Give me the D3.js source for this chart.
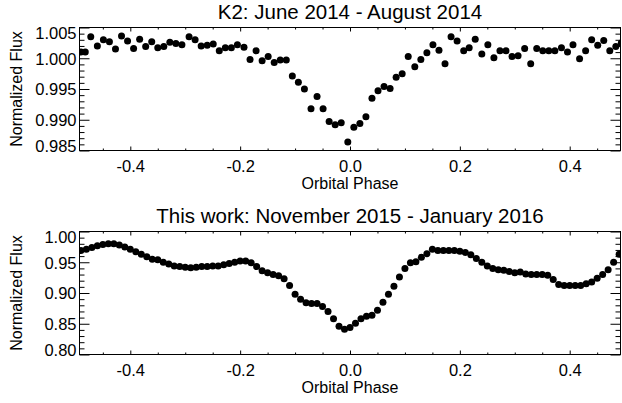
<!DOCTYPE html>
<html><head><meta charset="utf-8">
<script src="https://cdn.jsdelivr.net/npm/d3@7"></script>
<style>
body{margin:0;background:#fff}
svg text{font-family:"Liberation Sans",Arial,Helvetica,sans-serif;fill:#000}
</style>
</head><body>
<svg id="c" width="622" height="403"></svg>
<script>
// ---- data ----
const k2Phase = [-0.490,-0.482,-0.472,-0.460,-0.449,-0.438,-0.427,-0.416,-0.405,-0.394,
 -0.383,-0.372,-0.361,-0.350,-0.339,-0.328,-0.317,-0.306,-0.293,-0.282,
 -0.271,-0.260,-0.249,-0.238,-0.227,-0.216,-0.205,-0.193,-0.182,-0.171,
 -0.160,-0.149,-0.138,-0.127,-0.116,-0.105,-0.094,-0.083,-0.071,-0.060,
 -0.049,-0.038,-0.027,-0.016,-0.004,0.007,0.018,0.029,0.040,0.051,
 0.062,0.073,0.084,0.095,0.106,0.118,0.129,0.140,0.151,0.162,
 0.173,0.184,0.195,0.207,0.217,0.228,0.240,0.251,0.262,0.273,
 0.284,0.295,0.306,0.318,0.329,0.340,0.351,0.362,0.373,0.385,
 0.396,0.406,0.418,0.429,0.440,0.451,0.462,0.473,0.484,0.494];
const k2Flux = [1.0010,1.0010,1.0035,1.0020,1.0030,1.0027,1.0015,1.0036,1.0028,1.0016,
 1.0031,1.0019,1.0027,1.0017,1.0019,1.0026,1.0024,1.0022,1.0035,1.0030,
 1.0020,1.0021,1.0023,1.0012,1.0017,1.0017,1.0022,1.0018,0.9998,1.0012,
 0.9996,1.0003,0.9993,0.9997,0.9997,0.9971,0.9961,0.9950,0.9918,0.9938,
 0.9918,0.9897,0.9892,0.9895,0.9864,0.9888,0.9894,0.9905,0.9935,0.9947,
 0.9954,0.9951,0.9969,0.9975,1.0003,0.9986,0.9998,1.0009,1.0022,1.0013,
 0.9991,1.0035,1.0028,1.0012,1.0017,1.0031,1.0007,1.0022,1.0001,1.0012,
 1.0012,1.0003,1.0004,1.0016,0.9991,1.0016,1.0012,1.0012,1.0012,1.0017,
 1.0010,1.0022,0.9999,1.0012,1.0030,1.0021,1.0029,1.0012,1.0019,1.0025];

const newPhase = [-0.49,-0.48,-0.47,-0.46,-0.45,-0.44,-0.43,-0.42,-0.41,-0.40,
 -0.39,-0.38,-0.37,-0.36,-0.35,-0.34,-0.33,-0.32,-0.31,-0.30,
 -0.29,-0.28,-0.27,-0.26,-0.25,-0.24,-0.23,-0.22,-0.21,-0.20,
 -0.19,-0.18,-0.17,-0.16,-0.15,-0.14,-0.13,-0.12,-0.11,-0.10,
 -0.09,-0.08,-0.07,-0.06,-0.05,-0.04,-0.03,-0.02,-0.01,0.00,
 0.01,0.02,0.03,0.04,0.05,0.06,0.07,0.08,0.09,0.10,
 0.11,0.12,0.13,0.14,0.15,0.16,0.17,0.18,0.19,0.20,
 0.21,0.22,0.23,0.24,0.25,0.26,0.27,0.28,0.29,0.30,
 0.31,0.32,0.33,0.34,0.35,0.36,0.37,0.38,0.39,0.40,
 0.41,0.42,0.43,0.44,0.45,0.46,0.47,0.48,0.49];
const newFlux = [0.969,0.971,0.974,0.977,0.979,0.980,0.980,0.978,0.975,0.971,
 0.967,0.963,0.959,0.955,0.954,0.950,0.947,0.944,0.943,0.942,
 0.941,0.942,0.943,0.943,0.944,0.944,0.946,0.948,0.950,0.952,
 0.952,0.949,0.943,0.936,0.933,0.930,0.928,0.923,0.912,0.898,
 0.890,0.884,0.883,0.883,0.878,0.870,0.858,0.846,0.841,0.844,
 0.851,0.858,0.862,0.864,0.872,0.885,0.898,0.911,0.926,0.940,
 0.949,0.951,0.958,0.964,0.971,0.969,0.969,0.969,0.969,0.968,
 0.966,0.962,0.956,0.950,0.944,0.940,0.938,0.937,0.935,0.933,
 0.934,0.931,0.930,0.930,0.930,0.929,0.922,0.914,0.912,0.912,
 0.912,0.912,0.915,0.918,0.924,0.930,0.938,0.950,0.963];

const xMajorTicks = [-0.4,-0.2,0.0,0.2,0.4];
const k2YTicks = [0.985,0.990,0.995,1.000,1.005];
const newYTicks = [0.80,0.85,0.90,0.95,1.00];
const titles = ["K2: June 2014 - August 2014","This work: November 2015 - January 2016"];
const xLabel = "Orbital Phase";
const yLabel = "Normalized Flux";

// ---- drawing ----
const svg = d3.select("#c");
const xLeft = 79.5, xRight = 620.5;
const xDomain = [-0.4925, 0.4925];

const panels = [
  {top:27.5, bottom:150.5, yDomain:[0.985,1.005], yTicks:k2YTicks, yMinor:0.001, fmt:d=>d.toFixed(3),
   phase:k2Phase, flux:k2Flux, title:titles[0]},
  {top:231.5, bottom:354.5, yDomain:[0.80,1.00], yTicks:newYTicks, yMinor:0.01, fmt:d=>d.toFixed(2),
   phase:newPhase, flux:newFlux, title:titles[1]}
];

panels.forEach((p,i)=>{
  const g = svg.append("g");
  const x = d3.scaleLinear().domain(xDomain).range([xLeft,xRight]);
  const y = d3.scaleLinear().domain(p.yDomain).range([p.bottom,p.top]);
  const xMinor = d3.range(-0.45,0.4501,0.05).map(v=>+v.toFixed(2)).filter(v=>!xMajorTicks.some(m=>Math.abs(m-v)<1e-6));
  const yMinor = d3.range(p.yDomain[0], p.yDomain[1]+p.yMinor/2, p.yMinor).map(v=>+v.toFixed(4))
     .filter(v=>!p.yTicks.some(m=>Math.abs(m-v)<1e-6));

  const clipId = "clip"+i;
  svg.append("clipPath").attr("id",clipId).append("rect")
    .attr("x",xLeft).attr("y",p.top).attr("width",xRight-xLeft).attr("height",p.bottom-p.top);

  // points
  g.append("g").attr("clip-path",`url(#${clipId})`)
    .selectAll("circle").data(p.phase.map((ph,j)=>[ph,p.flux[j]])).join("circle")
    .attr("cx",d=>x(d[0])).attr("cy",d=>y(d[1])).attr("r",3.5).attr("fill","#000");

  // frame
  g.append("rect").attr("x",xLeft).attr("y",p.top).attr("width",xRight-xLeft).attr("height",p.bottom-p.top)
    .attr("fill","none").attr("stroke","#000").attr("stroke-width",1);

  const style = sel=>{ sel.select(".domain").remove(); sel.selectAll("line").attr("stroke","#000"); 
     sel.attr("font-family",null).attr("font-size",null); sel.selectAll("text").attr("font-size",16.5); };

  // x axes
  g.append("g").attr("transform",`translate(0,${p.bottom})`)
    .call(d3.axisBottom(x).tickValues(xMajorTicks).tickSize(-4).tickPadding(10).tickFormat(d=>d.toFixed(1))).call(style);
  g.append("g").attr("transform",`translate(0,${p.bottom})`)
    .call(d3.axisBottom(x).tickValues(xMinor).tickSize(-2).tickFormat("")).call(style);
  g.append("g").attr("transform",`translate(0,${p.top})`)
    .call(d3.axisTop(x).tickValues(xMajorTicks).tickSize(-4).tickFormat("")).call(style);
  g.append("g").attr("transform",`translate(0,${p.top})`)
    .call(d3.axisTop(x).tickValues(xMinor).tickSize(-2).tickFormat("")).call(style);

  // y axes
  const ya = g.append("g").attr("transform",`translate(${xLeft},0)`)
    .call(d3.axisLeft(y).tickValues(p.yTicks).tickSize(-10).tickPadding(3).tickFormat(p.fmt)).call(style);
  ya.selectAll(".tick text").attr("dy",(d)=>{
     if (Math.abs(d-p.yDomain[1])<1e-9) return "0.67em";
     if (Math.abs(d-p.yDomain[0])<1e-9) return "0.05em";
     return "0.35em"; });
  g.append("g").attr("transform",`translate(${xLeft},0)`)
    .call(d3.axisLeft(y).tickValues(yMinor).tickSize(-5).tickFormat("")).call(style);
  g.append("g").attr("transform",`translate(${xRight},0)`)
    .call(d3.axisRight(y).tickValues(p.yTicks).tickSize(-10).tickFormat("")).call(style);
  g.append("g").attr("transform",`translate(${xRight},0)`)
    .call(d3.axisRight(y).tickValues(yMinor).tickSize(-5).tickFormat("")).call(style);

  // labels
  const cx = (xLeft+xRight)/2;
  g.append("text").attr("x",cx).attr("y",p.top-8.5).attr("text-anchor","middle").attr("font-size",20.5).text(p.title);
  g.append("text").attr("x",cx).attr("y",p.bottom+38).attr("text-anchor","middle").attr("font-size",16).text(xLabel);
  g.append("text").attr("transform",`translate(22,${(p.top+p.bottom)/2}) rotate(-90)`)
    .attr("text-anchor","middle").attr("font-size",16).text(yLabel);
});
</script>
</body></html>
